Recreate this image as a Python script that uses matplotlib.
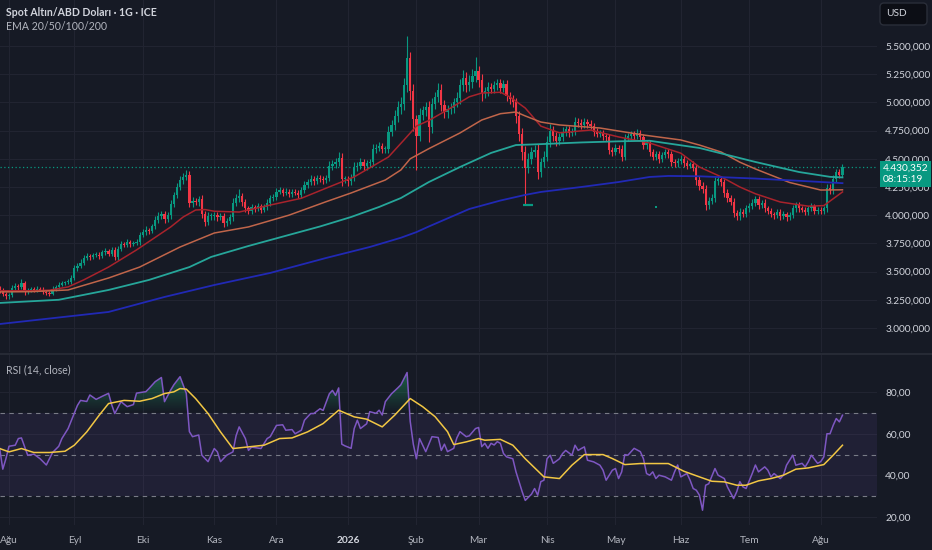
import numpy as np
import pandas as pd
import matplotlib
matplotlib.use("Agg")
import matplotlib.pyplot as plt
import matplotlib.colors as mcolors
import matplotlib.transforms as mtransforms
from matplotlib.patches import FancyBboxPatch
from matplotlib.lines import Line2D
from matplotlib.path import Path

plt.rcParams['font.family'] = ['Lato', 'DejaVu Sans']

# ---------------- data ----------------
start_date = '2025-07-29'   # first daily candle, business days

opens = [
    3350, 3330, 3300, 3280, 3290, 3355, 3370, 3360, 3400, 3320,
    3340, 3345, 3335, 3350, 3340, 3320, 3310, 3305, 3350, 3360,
    3385, 3400, 3405, 3410, 3445, 3530, 3550, 3580, 3620, 3640,
    3630, 3645, 3650, 3640, 3670, 3680, 3660, 3690, 3630, 3700,
    3745, 3740, 3760, 3745, 3755, 3760, 3825, 3850, 3870, 3860,
    3900, 3960, 3990, 4010, 3970, 4000, 4100, 4180, 4250, 4310,
    4340, 4360, 4110, 4130, 4120, 4140, 4010, 3940, 3990, 3990,
    4000, 3980, 3990, 3930, 3950, 3980, 4110, 4150, 4170, 4120,
    4060, 4040, 4070, 4060, 4080, 4050, 4070, 4110, 4150, 4160,
    4210, 4220, 4200, 4210, 4190, 4210, 4200, 4180, 4220, 4270,
    4290, 4320, 4300, 4330, 4320, 4310, 4330, 4440, 4450, 4470,
    4510, 4320, 4320, 4300, 4330, 4430, 4440, 4470, 4440, 4460,
    4470, 4590, 4600, 4610, 4590, 4590, 4740, 4800, 4880, 4960,
    4990, 5150, 5390, 5100, 4850, 4700, 4890, 4930, 4960, 4780,
    4990, 5050, 5110, 4980, 4915, 4940, 4950, 5000, 5040, 5150,
    5220, 5150, 5180, 5230, 5280, 5200, 5080, 5100, 5140, 5120,
    5150, 5170, 5130, 5160, 5060, 5030, 5000, 4880, 4720, 4560,
    4420, 4500, 4560, 4580, 4380, 4470, 4520, 4650, 4750, 4700,
    4660, 4690, 4740, 4760, 4730, 4740, 4830, 4820, 4800, 4830,
    4810, 4790, 4740, 4720, 4730, 4700, 4690, 4580, 4560, 4600,
    4590, 4520, 4680, 4700, 4720, 4700, 4730, 4690, 4620, 4640,
    4560, 4520, 4540, 4500, 4530, 4560, 4540, 4470, 4460, 4480,
    4500, 4460, 4440, 4450, 4420, 4310, 4260, 4230, 4090, 4130,
    4150, 4300, 4320, 4290, 4200, 4150, 4120, 4020, 3990, 4030,
    4010, 4060, 4080, 4110, 4140, 4090, 4110, 4060, 4040, 4010,
    4000, 4030, 3990, 4010, 3980, 4000, 4060, 4090, 4060, 4050,
    4030, 4060, 4080, 4040, 4050, 4040, 4060, 4240, 4220, 4320,
    4380, 4360]

closes = [
    3330, 3300, 3280, 3290, 3355, 3370, 3360, 3400, 3320, 3340,
    3345, 3335, 3350, 3340, 3320, 3310, 3305, 3350, 3360, 3385,
    3400, 3405, 3410, 3445, 3530, 3550, 3580, 3620, 3640, 3630,
    3645, 3650, 3640, 3670, 3680, 3660, 3690, 3630, 3700, 3745,
    3740, 3760, 3745, 3755, 3760, 3825, 3850, 3870, 3860, 3900,
    3960, 3990, 4010, 3970, 4000, 4100, 4180, 4250, 4310, 4340,
    4360, 4110, 4130, 4120, 4140, 4010, 3940, 3990, 3990, 4000,
    3980, 3990, 3930, 3950, 3980, 4110, 4150, 4170, 4120, 4060,
    4040, 4070, 4060, 4080, 4050, 4070, 4110, 4150, 4160, 4210,
    4220, 4200, 4210, 4190, 4210, 4200, 4180, 4220, 4270, 4290,
    4320, 4300, 4330, 4320, 4310, 4330, 4440, 4450, 4470, 4510,
    4320, 4320, 4300, 4330, 4430, 4440, 4470, 4440, 4460, 4470,
    4590, 4600, 4610, 4590, 4590, 4740, 4800, 4880, 4960, 4990,
    5150, 5390, 5100, 4850, 4700, 4890, 4930, 4960, 4780, 4990,
    5050, 5110, 4980, 4915, 4940, 4950, 5000, 5040, 5150, 5220,
    5150, 5180, 5230, 5280, 5200, 5080, 5100, 5140, 5120, 5150,
    5170, 5130, 5160, 5060, 5030, 5000, 4880, 4720, 4560, 4420,
    4500, 4560, 4580, 4380, 4470, 4520, 4650, 4750, 4700, 4660,
    4690, 4740, 4760, 4730, 4740, 4830, 4820, 4800, 4830, 4810,
    4790, 4740, 4720, 4730, 4700, 4690, 4580, 4560, 4600, 4590,
    4520, 4680, 4700, 4720, 4700, 4730, 4690, 4620, 4640, 4560,
    4520, 4540, 4500, 4530, 4560, 4540, 4470, 4460, 4480, 4500,
    4460, 4440, 4450, 4420, 4310, 4260, 4230, 4090, 4130, 4150,
    4300, 4320, 4290, 4200, 4150, 4120, 4020, 3990, 4030, 4010,
    4060, 4080, 4110, 4140, 4090, 4110, 4060, 4040, 4010, 4000,
    4030, 3990, 4010, 3980, 4000, 4060, 4090, 4060, 4050, 4030,
    4060, 4080, 4040, 4050, 4040, 4060, 4240, 4220, 4320, 4380,
    4360, 4430.352]

# wick lengths above / below the candle body
wick_up = [
    20, 25, 15, 20, 30, 25, 20, 35, 20, 15,
    15, 20, 20, 15, 20, 15, 20, 25, 20, 20,
    20, 15, 20, 25, 30, 25, 30, 30, 25, 20,
    20, 25, 20, 25, 25, 20, 25, 30, 25, 25,
    20, 25, 20, 20, 25, 30, 25, 30, 20, 25,
    30, 35, 30, 25, 30, 35, 30, 35, 40, 35,
    40, 30, 35, 25, 30, 40, 30, 35, 30, 25,
    25, 30, 30, 25, 30, 40, 35, 60, 30, 25,
    25, 30, 20, 25, 20, 25, 30, 30, 25, 30,
    30, 25, 30, 20, 25, 25, 20, 30, 35, 30,
    35, 25, 30, 25, 25, 30, 40, 35, 40, 50,
    40, 30, 25, 35, 40, 30, 35, 25, 30, 30,
    40, 30, 35, 30, 25, 50, 45, 50, 55, 60,
    70, 200, 60, 60, 40, 60, 40, 45, 50, 50,
    45, 60, 50, 40, 40, 45, 40, 50, 60, 70,
    50, 60, 70, 120, 40, 50, 40, 45, 35, 40,
    40, 35, 40, 35, 30, 35, 40, 40, 50, 50,
    50, 45, 40, 50, 40, 50, 50, 55, 40, 35,
    35, 40, 35, 30, 30, 40, 35, 30, 30, 25,
    30, 25, 30, 25, 25, 30, 30, 25, 30, 25,
    30, 40, 30, 25, 30, 30, 25, 30, 25, 30,
    25, 30, 25, 30, 30, 25, 30, 25, 25, 35,
    25, 30, 25, 30, 30, 35, 30, 40, 35, 35,
    40, 35, 30, 30, 30, 25, 30, 30, 30, 25,
    30, 25, 30, 30, 30, 25, 30, 25, 25, 20,
    25, 25, 30, 20, 25, 30, 30, 25, 25, 20,
    25, 30, 20, 25, 20, 25, 40, 35, 35, 30,
    30, 25]

wick_dn = [
    20, 20, 25, 20, 15, 20, 20, 15, 25, 20,
    20, 15, 20, 15, 20, 20, 20, 15, 20, 15,
    15, 20, 15, 20, 20, 25, 20, 25, 20, 25,
    20, 20, 25, 20, 20, 25, 20, 30, 25, 20,
    25, 20, 25, 20, 20, 25, 20, 25, 25, 20,
    25, 30, 25, 35, 30, 30, 25, 30, 30, 35,
    30, 40, 35, 30, 35, 35, 40, 30, 35, 30,
    30, 25, 35, 30, 25, 30, 30, 35, 40, 35,
    30, 25, 30, 25, 30, 25, 25, 30, 25, 25,
    25, 30, 25, 30, 25, 20, 30, 25, 25, 30,
    25, 30, 25, 30, 30, 25, 30, 35, 30, 35,
    60, 35, 40, 30, 30, 35, 30, 40, 35, 30,
    30, 35, 30, 40, 35, 40, 40, 45, 50, 60,
    60, 60, 80, 100, 300, 40, 50, 50, 130, 50,
    50, 45, 60, 50, 50, 40, 45, 40, 50, 50,
    60, 50, 50, 45, 60, 70, 40, 45, 40, 35,
    40, 45, 40, 50, 40, 45, 60, 60, 70, 330,
    50, 50, 45, 60, 45, 40, 40, 45, 40, 45,
    35, 35, 40, 35, 30, 30, 35, 35, 30, 35,
    30, 35, 30, 30, 35, 30, 40, 35, 30, 35,
    40, 30, 25, 30, 30, 25, 30, 35, 30, 35,
    35, 30, 35, 30, 25, 30, 35, 30, 30, 25,
    30, 30, 25, 30, 40, 35, 35, 45, 35, 30,
    30, 30, 30, 35, 35, 30, 40, 35, 30, 30,
    30, 30, 25, 30, 35, 30, 30, 30, 30, 30,
    25, 30, 25, 30, 25, 25, 30, 30, 25, 30,
    25, 25, 30, 25, 25, 25, 30, 35, 30, 30,
    30, 25]

# stray ticks printed by the feed: a short dash and a single dot
dash_idx = [170]
dash_price = [4090]
dot_idx = [211]
dot_price = [4073]

# moving averages, sampled at candle index
ema20_idx = [0, 10, 16, 22, 27, 32, 35, 44, 55, 59, 63, 66, 69, 77, 87, 97, 105, 114, 125, 130,
             134, 138, 145, 151, 155, 161, 164, 169, 174, 180, 190, 199, 209, 219, 225, 232, 238,
             243, 251, 260, 265, 271]
ema20_val = [3330, 3330, 3335, 3364, 3426, 3497, 3540, 3692, 3896, 3984, 4046, 4050, 4035, 4028,
             4090, 4150, 4240, 4340, 4516, 4667, 4790, 4840, 4950, 5050, 5083, 5090, 5050, 4950,
             4790, 4730, 4755, 4694, 4640, 4550, 4427, 4340, 4250, 4190, 4117, 4080, 4085, 4206]
ema50_idx = [0, 10, 22, 35, 45, 58, 69, 80, 93, 105, 113, 124, 129, 132, 138, 148, 155, 161, 166,
             169, 174, 180, 193, 207, 219, 225, 232, 238, 243, 254, 264, 271]
ema50_val = [3320, 3322, 3337, 3443, 3540, 3718, 3842, 3896, 4000, 4120, 4197, 4312, 4401, 4500,
             4590, 4729, 4844, 4900, 4915, 4880, 4826, 4800, 4773, 4711, 4667, 4622, 4560, 4470,
             4410, 4290, 4223, 4225]
ema100_idx = [0, 19, 35, 48, 61, 68, 80, 93, 103, 113, 122, 129, 138, 148, 158, 166, 174, 187,
              199, 209, 225, 243, 257, 267, 271]
ema100_val = [3222, 3250, 3337, 3426, 3540, 3630, 3727, 3825, 3900, 3984, 4073, 4152, 4294, 4427,
              4552, 4622, 4630, 4645, 4655, 4660, 4596, 4472, 4383, 4340, 4335]
ema200_idx = [0, 35, 53, 69, 87, 105, 119, 129, 134, 138, 151, 161, 169, 174, 187, 199, 209, 215,
              225, 243, 257, 271]
ema200_val = [3035, 3142, 3275, 3381, 3488, 3621, 3718, 3800, 3850, 3900, 4055, 4130, 4180, 4206,
              4250, 4294, 4339, 4348, 4345, 4325, 4305, 4284]

# RSI(14) and its moving average
rsi_idx = [0, 1, 2, 3, 5, 6, 7, 9, 11, 13, 15, 17, 19, 20, 22, 25, 26, 28, 29, 31, 33, 35, 36, 37,
           39, 41, 43, 44, 47, 48, 50, 52, 53, 55, 56, 58, 60, 61, 62, 64, 65, 67, 69, 70, 71, 73,
           75, 76, 77, 79, 80, 81, 84, 86, 87, 89, 91, 92, 94, 95, 97, 98, 100, 101, 103, 104, 106,
           107, 108, 109, 110, 111, 113, 114, 115, 116, 118, 119, 121, 122, 123, 124, 126, 128,
           129, 131, 132, 133, 134, 135, 137, 138, 139, 141, 142, 143, 144, 146, 147, 148, 150,
           151, 153, 154, 155, 156, 157, 158, 159, 160, 161, 162, 163, 165, 166, 168, 169, 171,
           172, 173, 174, 175, 176, 177, 178, 180, 181, 182, 184, 185, 186, 187, 188, 189, 191,
           193, 194, 195, 197, 198, 199, 200, 201, 202, 204, 206, 207, 208, 209, 210, 211, 212,
           214, 216, 217, 218, 219, 221, 222, 223, 224, 225, 226, 227, 228, 230, 231, 233, 234,
           236, 237, 238, 239, 240, 242, 243, 244, 246, 247, 248, 249, 251, 252, 253, 255, 256,
           258, 259, 260, 261, 263, 264, 265, 266, 267, 268, 269, 270, 271]
rsi_val = [52.9, 43, 48, 54, 54.5, 57.7, 58, 49.7, 50.2, 48, 45, 51, 54, 57.7, 62.5, 73.6, 76, 75.5,
           78.6, 76.5, 78, 79.4, 74, 69.7, 75.4, 73, 74, 79.5, 80.2, 81.7, 85, 87, 75.4, 81, 83.5,
           87.4, 79.4, 61, 58.6, 59.4, 49.7, 46.6, 52.9, 51.3, 46.6, 49.7, 51.3, 59, 63.3, 57.7,
           52, 53.6, 52.9, 57.7, 58.6, 64, 64.3, 61.7, 62, 60, 61.7, 66.5, 69.7, 69.7, 72, 71.2,
           79.2, 80.8, 78.4, 82, 55, 54.2, 53, 62.5, 66.5, 62.5, 64.8, 70.6, 69.8, 71.3, 69, 75.4,
           79.2, 82, 83.5, 89.4, 66, 55, 48, 57.7, 51.4, 55, 58.6, 58.2, 52, 55, 51.4, 53, 58, 61,
           58.6, 59, 62.5, 63, 53.8, 55.4, 53, 55.4, 54.6, 56.2, 55.4, 50.5, 48.9, 48, 41.8, 32.2,
           28, 31, 33.7, 30.5, 37, 37.7, 48, 49.7, 45.8, 48, 50.5, 52, 49.7, 54.5, 52, 52.9, 53.7,
           47.3, 46.5, 44.9, 42.5, 37.7, 42.5, 43.3, 38.5, 41.7, 50, 49.7, 53, 51.4, 48, 40.9,
           40.1, 41.7, 38.5, 40.1, 39.3, 37.7, 41.7, 45, 39.3, 40.9, 37.7, 33.7, 32.9, 30.5, 23.3,
           35.3, 36, 43.3, 40.1, 38.5, 34.5, 28.9, 32.2, 37, 34.5, 33.7, 41, 45, 41.7, 44.1, 42.5,
           39.3, 40.9, 38.5, 40.1, 44.9, 49.7, 44.9, 45.8, 44.1, 46.5, 49.7, 45.8, 46.6, 48.9, 60,
           60, 64, 67.3, 65.7, 68.9]
rsi_ma_idx = [0, 3, 7, 11, 16, 21, 24, 28, 32, 35, 40, 45, 49, 53, 56, 58, 60, 63, 67, 71, 75, 80,
              85, 90, 94, 99, 104, 109, 114, 118, 123, 127, 132, 136, 140, 144, 146, 150, 154, 156,
              161, 165, 169, 175, 180, 184, 188, 194, 197, 201, 206, 210, 215, 220, 225, 229, 233,
              237, 240, 244, 248, 252, 256, 260, 265, 268, 271]
rsi_ma_val = [52.9, 51.3, 52.9, 51, 51, 51.6, 54.5, 60.9, 68.9, 74.5, 76, 75.6, 76.9, 79.3, 80.1,
              81.7, 81.4, 76.9, 69.7, 60.9, 52.9, 53.7, 54.5, 57.7, 58, 60.9, 64.9, 71.3, 68.1, 67,
              63.3, 68.9, 76.9, 73, 68.2, 61, 54.8, 56.1, 57.7, 56.9, 57.3, 54.5, 48, 39.3, 38.5,
              44.9, 50, 50, 48.1, 45.2, 45.7, 45.7, 45.7, 42, 39.3, 37.2, 36.9, 35.3, 35.3, 37.4,
              38.5, 40.1, 43, 43.6, 45.2, 49.7, 54.5]

price_ticks = [3000, 3250, 3500, 3750, 4000, 4250, 4500, 4750, 5000, 5250, 5500]
rsi_ticks = [20, 40, 60, 80]
month_names = {1: '2026', 2: 'Şub', 3: 'Mar', 4: 'Nis', 5: 'May', 6: 'Haz',
               7: 'Tem', 8: 'Ağu', 9: 'Eyl', 10: 'Eki', 11: 'Kas', 12: 'Ara'}
countdown = '08:15:19'

# ---------------- style ----------------
BG = '#161a25'
GRID = '#212431'
TXT = '#b2b5be'
UP = '#089981'
DN = '#f23645'


def tr_num(v, d):
    s = f'{v:,.{d}f}'
    return s.replace(',', '#').replace('.', ',').replace('#', '.')


def gradient_fill(axis, xs, ys, level, edge, color, amax):
    xs = np.asarray(xs, float)
    ys = np.asarray(ys, float)
    mask = ys > level if edge > level else ys < level
    coll = axis.fill_between(xs, ys, level, where=mask, interpolate=True,
                             facecolor='none', edgecolor='none')
    paths = coll.get_paths()
    if not paths:
        return
    clip = Path.make_compound_path(*paths)
    n = 80
    img = np.zeros((n, 1, 4))
    img[:, 0, :3] = mcolors.to_rgb(color)
    if edge > level:
        img[:, 0, 3] = np.linspace(0, amax, n)
        ext = [xs.min(), xs.max(), level, edge]
    else:
        img[:, 0, 3] = np.linspace(amax, 0, n)
        ext = [xs.min(), xs.max(), edge, level]
    im = axis.imshow(img, extent=ext, origin='lower', aspect='auto', zorder=2,
                     interpolation='bilinear')
    im.set_clip_path(clip, transform=axis.transData)


fig = plt.figure(figsize=(9.32, 5.5), dpi=100, facecolor=BG)
W = 877 / 932
ax = fig.add_axes([0, 198 / 550, W, 352 / 550])
rx = fig.add_axes([0, 25 / 550, W, 170 / 550], sharex=ax)

for a in (ax, rx):
    a.set_facecolor(BG)
    for s in a.spines.values():
        s.set_visible(False)
    a.grid(True, color=GRID, lw=0.8)
    a.set_axisbelow(True)

# ---------------- candles ----------------
x = np.arange(len(closes))
o = np.array(opens, float)
c = np.array(closes, float)
hi = np.maximum(o, c) + np.array(wick_up)
lo = np.minimum(o, c) - np.array(wick_dn)
col = np.where(c >= o, UP, DN)
ax.vlines(x, lo, hi, colors=col, lw=0.8, zorder=3)
ax.bar(x, np.maximum(np.abs(c - o), 8), bottom=np.minimum(o, c), width=0.72,
       color=col, lw=0, zorder=3)
ax.plot(dash_idx, dash_price, ls='none', marker='_', ms=7, mew=1.6, color=UP, zorder=3)
ax.plot(dot_idx, dot_price, ls='none', marker='s', ms=2, mew=0, color=UP, zorder=3)

ax.plot(ema20_idx, ema20_val, color='#a8232c', lw=1.1, zorder=4)
ax.plot(ema50_idx, ema50_val, color='#c0654a', lw=1.1, zorder=4)
ax.plot(ema100_idx, ema100_val, color='#26a69a', lw=1.3, zorder=4)
ax.plot(ema200_idx, ema200_val, color='#2129b5', lw=1.3, zorder=4)

ax.axhline(closes[-1], color=UP, lw=0.9, ls=(0, (1, 2)), zorder=2)

ax.set_xlim(0.1, 282.1)
ax.set_ylim(2787, 5908)
ax.yaxis.tick_right()
ax.set_yticks(price_ticks)
ax.set_yticklabels([tr_num(v, 3) for v in price_ticks])
ax.tick_params(axis='y', length=0, pad=6, labelsize=7.3, labelcolor='#d1d4dc')
ax.tick_params(axis='x', length=0, labelbottom=False)

trans = mtransforms.blended_transform_factory(ax.transAxes, ax.transData)
ax.annotate(tr_num(closes[-1], 3) + '\n' + countdown, xy=(1.0, closes[-1]), xycoords=trans,
            xytext=(4, 2), textcoords='offset points', ha='left', va='top', fontsize=7.3,
            color='white', linespacing=1.3, annotation_clip=False, zorder=10,
            bbox=dict(boxstyle='square,pad=0.3', fc=UP, ec='none'))

# ---------------- RSI ----------------
rx.axhspan(30, 70, color='#7e57c2', alpha=0.1, lw=0, zorder=1)
for lvl in (70, 50, 30):
    rx.axhline(lvl, color='#787b86', lw=0.8, ls=(0, (4, 4)), zorder=1.5)
gradient_fill(rx, rsi_idx, rsi_val, 70, 92, '#22ab6b', 0.55)
gradient_fill(rx, rsi_idx, rsi_val, 30, 10, '#f23645', 0.5)
rx.plot(rsi_idx, rsi_val, color='#7e57c2', lw=1.1, zorder=3)
rx.plot(rsi_ma_idx, rsi_ma_val, color='#f2c744', lw=1.1, zorder=4)

rx.set_xlim(0.1, 282.1)
rx.set_ylim(16.2, 97.8)
rx.yaxis.tick_right()
rx.set_yticks(rsi_ticks)
rx.set_yticklabels([tr_num(v, 2) for v in rsi_ticks])
rx.tick_params(axis='y', length=0, pad=6, labelsize=7.3, labelcolor='#d1d4dc')

dates = pd.bdate_range(start_date, periods=len(closes))
mpos = [i for i in range(1, len(dates)) if dates[i].month != dates[i - 1].month]
rx.set_xticks(mpos)
rx.set_xticklabels([month_names[dates[i].month] for i in mpos])
rx.tick_params(axis='x', length=0, pad=8, labelsize=7.3, labelcolor=TXT)
for t in rx.get_xticklabels():
    if t.get_text() == '2026':
        t.set_fontweight('bold')
        t.set_color('#d1d4dc')

# ---------------- decorations ----------------
fig.add_artist(Line2D([0, 1], [196.5 / 550] * 2, color='#2a2e39', lw=1.2))
fig.text(6 / 932, 1 - 13 / 550, 'Spot Altın/ABD Doları · 1G · ICE', fontsize=7.6,
         fontweight='bold', color='#d1d4dc', va='center')
fig.text(6 / 932, 1 - 27 / 550, 'EMA 20/50/100/200', fontsize=7.6, color=TXT, va='center')
fig.text(6 / 932, 1 - 370 / 550, 'RSI (14, close)', fontsize=7.6, color=TXT, va='center')

box = FancyBboxPatch((880, 525), 47, 22, boxstyle='round,pad=0,rounding_size=4',
                     transform=mtransforms.IdentityTransform(), fc='#0c0e15',
                     ec='#2a2e39', lw=1)
fig.add_artist(box)
fig.text(886 / 932, 1 - 14 / 550, 'USD', fontsize=7.3, color='#d1d4dc', va='center')

fig.savefig('out.png', dpi=100, facecolor=BG)
